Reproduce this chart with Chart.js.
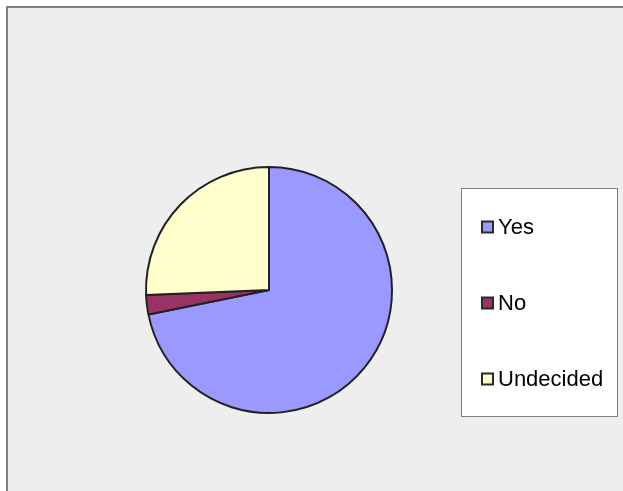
<!DOCTYPE html>
<html>
<head>
<meta charset="utf-8">
<script src="https://cdn.jsdelivr.net/npm/chart.js@4/dist/chart.umd.min.js"></script>
<style>
  body { margin: 0; background: #fff; }
  #wrap { width: 623px; height: 491px; }
</style>
</head>
<body>
<div id="wrap"><canvas id="myChart" width="623" height="491"></canvas></div>
<script>
const labels = ["Yes", "No", "Undecided"];
const values = [28, 1, 10];
const colors = ["#9999ff", "#993366", "#ffffcc"];

// grey frame behind everything
const frame = {
  id: "frame",
  beforeDraw: function (chart) {
    const c = chart.ctx;
    c.save();
    c.fillStyle = "#ffffff";
    c.fillRect(0, 0, chart.width, chart.height);
    c.fillStyle = "#eeeeee";
    c.fillRect(7, 7, chart.width - 7, chart.height - 7);
    c.strokeStyle = "#808080";
    c.lineWidth = 2;
    c.beginPath();
    c.moveTo(7, chart.height);
    c.lineTo(7, 7);
    c.lineTo(chart.width, 7);
    c.stroke();
    c.restore();
  },
};

// boxed legend on the right
const boxLegend = {
  id: "boxLegend",
  afterDraw: function (chart) {
    const c = chart.ctx;
    c.save();
    c.fillStyle = "#ffffff";
    c.fillRect(461, 188, 156, 228);
    c.strokeStyle = "#808080";
    c.lineWidth = 1;
    c.strokeRect(461.5, 188.5, 156, 228);
    c.font = "22px 'Liberation Sans', Arial, sans-serif";
    c.textBaseline = "middle";
    const ds = chart.data.datasets[0];
    chart.data.labels.forEach(function (lab, i) {
      const y = 227 + i * 76;
      c.fillStyle = "#2a2a2a";
      c.fillRect(481, y - 6.5, 13, 13);
      c.fillStyle = ds.backgroundColor[i];
      c.fillRect(483, y - 4.5, 9, 9);
      c.fillStyle = "#000000";
      c.fillText(lab, 498, y + 1);
    });
    c.restore();
  },
};

const ctx = document.getElementById("myChart").getContext("2d");
const myChart = new Chart(ctx, {
  type: "pie",
  data: {
    labels: labels,
    datasets: [
      {
        data: values,
        backgroundColor: colors,
        borderColor: "#222222",
        borderWidth: 2,
      },
    ],
  },
  options: {
    responsive: false,
    animation: false,
    devicePixelRatio: 1,
    layout: {
      padding: { left: 145, right: 230, top: 166, bottom: 77 },
    },
    plugins: {
      legend: false,
      tooltip: { enabled: false },
    },
  },
  plugins: [frame, boxLegend],
});
</script>
</body>
</html>
